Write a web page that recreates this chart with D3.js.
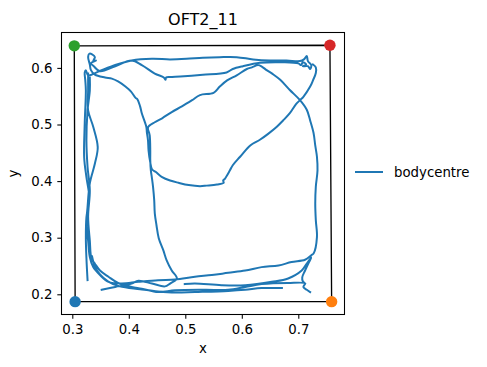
<!DOCTYPE html>
<html><head><meta charset="utf-8">
<script src="https://cdn.jsdelivr.net/npm/d3@7"></script>
<style>body{margin:0;background:#fff}svg{display:block}text{font-family:"DejaVu Sans",sans-serif;fill:#000}</style>
</head><body><svg id="c" width="487" height="367"></svg>
<script>
const title = "OFT2_11";
const seriesName = "bodycentre";
const xTicks = [0.3, 0.4, 0.5, 0.6, 0.7];
const yTicks = [0.2, 0.3, 0.4, 0.5, 0.6];
const xDomain = [0.28177, 0.78089];
const yDomain = [0.16519, 0.66166];
// corners: top-left, top-right, bottom-right, bottom-left
const cornerNames = ["top_left", "top_right", "bottom_right", "bottom_left"];
const cornerX = [0.3035, 0.756, 0.759, 0.305];
const cornerY = [0.639, 0.640, 0.187, 0.187];
const cornerColors = ["#2ca02c", "#d62728", "#ff7f0e", "#1f77b4"];
// body-centre track (null = tracking gap)
const trackX = [
0.726,0.731,0.731,0.726,0.721,0.709,0.703,0.696,0.685,0.673,0.662,0.646,0.632,0.615,0.597,0.584,0.579,0.570,0.567,0.568,0.556,0.538,0.526,0.506,0.488,0.473,0.459,0.448,0.441,0.438,0.435,0.434,0.432,0.431,0.423,0.420,0.415,0.412,0.404,0.394,0.381,0.370,0.358,0.340,0.333,0.331,0.328,0.330,0.335,0.340,0.337,0.342,0.333,0.338,0.349,0.376,0.405,0.423,0.446,0.462,0.465,0.466,0.473,0.491,0.531,0.573,0.584,0.602,0.632,0.673,0.700,0.705,0.708,0.714,0.708,0.717,0.721,0.723,0.717,0.715,0.710,0.703,0.679,0.650,0.620,0.591,0.561,0.531,0.502,0.473,0.441,0.405,0.376,0.345,0.328,0.324,0.322,0.323,0.324,0.322,0.321,0.325,0.330,0.325,0.324,0.325,0.327,
null,
0.328,0.328,0.328,0.337,0.345,0.340,0.331,0.327,0.325,0.328,0.331,0.337,0.349,0.364,0.387,0.417,0.452,0.482,0.517,0.547,0.576,0.606,0.635,0.665,0.688,0.712,0.723,0.727,0.733,0.731,0.730,0.731,0.734,0.733,0.730,0.727,0.721,0.715,0.703,0.685,0.668,0.655,0.644,0.636,0.629,0.618,0.609,0.591,0.574,0.561,0.550,0.526,0.512,0.494,0.476,0.459,0.446,0.434,0.437,0.438,0.438,0.439,0.441,0.443,0.445,0.446,0.449,0.453,0.461,0.467,0.476,0.485,0.473,0.464,0.441,0.417,0.405,0.376,0.352,
null,
0.331,0.331,0.327,0.325,0.327,0.331,0.328,0.331,0.334,0.340,0.349,0.364,0.381,0.405,0.423,0.452,0.482,0.535,0.576,0.606,0.635,0.682,0.712,0.709,0.715,0.721,
null,
0.499,0.517,0.564,0.606,0.653,0.682,0.706,0.714,0.723,0.719,0.712,0.707,0.708,0.712,
null,
0.671,0.635,0.606,0.576,0.517,0.482,0.452,0.420,0.384,0.363,0.349,0.340,0.335
];
const trackY = [
0.606,0.601,0.591,0.578,0.567,0.549,0.543,0.536,0.520,0.507,0.496,0.483,0.473,0.463,0.443,0.428,0.419,0.404,0.401,0.397,0.394,0.392,0.391,0.393,0.397,0.401,0.407,0.416,0.421,0.433,0.454,0.472,0.486,0.496,0.520,0.532,0.545,0.547,0.558,0.567,0.576,0.581,0.583,0.588,0.596,0.606,0.619,0.625,0.624,0.619,0.612,0.613,0.608,0.603,0.594,0.603,0.613,0.605,0.590,0.583,0.579,0.583,0.584,0.585,0.588,0.592,0.598,0.603,0.609,0.610,0.608,0.605,0.610,0.606,0.603,0.603,0.598,0.605,0.612,0.621,0.615,0.612,0.613,0.613,0.615,0.619,0.619,0.618,0.616,0.615,0.616,0.613,0.605,0.593,0.587,0.596,0.592,0.578,0.560,0.502,0.442,0.407,0.371,0.336,0.301,0.264,0.225,
null,
0.590,0.560,0.525,0.496,0.460,0.431,0.396,0.354,0.325,0.295,0.266,0.248,0.234,0.222,0.219,0.222,0.225,0.226,0.231,0.234,0.238,0.242,0.248,0.251,0.257,0.261,0.269,0.272,0.301,0.331,0.360,0.390,0.419,0.443,0.463,0.485,0.507,0.526,0.543,0.561,0.579,0.589,0.596,0.602,0.605,0.601,0.598,0.587,0.578,0.567,0.556,0.552,0.543,0.532,0.522,0.511,0.504,0.495,0.481,0.454,0.437,0.419,0.405,0.389,0.366,0.343,0.322,0.299,0.278,0.260,0.242,0.228,0.219,0.214,0.219,0.224,0.219,0.213,0.208,
null,
0.583,0.560,0.525,0.472,0.425,0.384,0.337,0.295,0.263,0.254,0.242,0.231,0.220,0.213,0.210,0.204,0.207,0.208,0.208,0.213,0.218,0.220,0.219,0.213,0.208,0.204,
null,
0.218,0.219,0.216,0.216,0.222,0.228,0.242,0.253,0.265,0.257,0.242,0.230,0.223,0.219,
null,
0.211,0.211,0.208,0.206,0.204,0.203,0.205,0.209,0.214,0.223,0.235,0.249,0.267
];

const L = 62, R = 344, T = 33, B = 314;
const svg = d3.select("#c");
const x = d3.scaleLinear().domain(xDomain).range([L, R]);
const y = d3.scaleLinear().domain(yDomain).range([B, T]);
const fmt = d3.format(".1f");

// x axis
const gx = svg.append("g").attr("transform", `translate(0,${B})`)
  .call(d3.axisBottom(x).tickValues(xTicks).tickFormat(fmt).tickSize(4.7).tickPadding(6.2));
// y axis
const gy = svg.append("g").attr("transform", `translate(${L},0)`)
  .call(d3.axisLeft(y).tickValues(yTicks).tickFormat(fmt).tickSize(4.7).tickPadding(4.8));
[gx, gy].forEach(g => {
  g.select(".domain").remove();
  g.selectAll(".tick line").attr("stroke", "#000").attr("stroke-width", 1.07);
  g.selectAll(".tick text").attr("font-size", 13.3).attr("font-family", "DejaVu Sans").attr("fill", "#000");
});

// arena outline through corners
const cornerIdx = d3.range(cornerX.length).concat([0]);
svg.append("path")
  .attr("d", d3.line().x(i => x(cornerX[i])).y(i => y(cornerY[i]))(cornerIdx))
  .attr("fill", "none").attr("stroke", "#000").attr("stroke-width", 1.33);

// track
const pts = trackX.map((v, i) => [v, trackY[i]]);
svg.append("path")
  .attr("d", d3.line().defined(d => d[0] != null).x(d => x(d[0])).y(d => y(d[1])).curve(d3.curveCatmullRom.alpha(0.5))(pts))
  .attr("fill", "none").attr("stroke", "#1f77b4").attr("stroke-width", 2)
  .attr("stroke-linejoin", "round").attr("stroke-linecap", "square");

// corner markers
svg.selectAll("circle.corner").data(cornerNames).join("circle")
  .attr("class", "corner")
  .attr("cx", (d, i) => x(cornerX[i])).attr("cy", (d, i) => y(cornerY[i]))
  .attr("r", 5.7).attr("fill", (d, i) => cornerColors[i]);

// frame
svg.append("rect").attr("x", L - 0.5).attr("y", T - 0.5).attr("width", R - L + 1).attr("height", B - T + 1)
  .attr("fill", "none").attr("stroke", "#000").attr("stroke-width", 1.07);

// title & labels
svg.append("text").attr("x", (L + R) / 2).attr("y", 25).attr("text-anchor", "middle")
  .attr("font-size", 16).text(title);
svg.append("text").attr("x", (L + R) / 2).attr("y", 353).attr("text-anchor", "middle")
  .attr("font-size", 13.3).text("x");
svg.append("text").attr("transform", `translate(18,${(T + B) / 2}) rotate(-90)`).attr("text-anchor", "middle")
  .attr("font-size", 13.3).text("y");

// legend
const lg = svg.append("g");
lg.append("line").attr("x1", 355).attr("x2", 383).attr("y1", 172).attr("y2", 172)
  .attr("stroke", "#1f77b4").attr("stroke-width", 2);
lg.append("text").attr("x", 394).attr("y", 176.8).attr("font-size", 13.3).text(seriesName);
</script></body></html>
